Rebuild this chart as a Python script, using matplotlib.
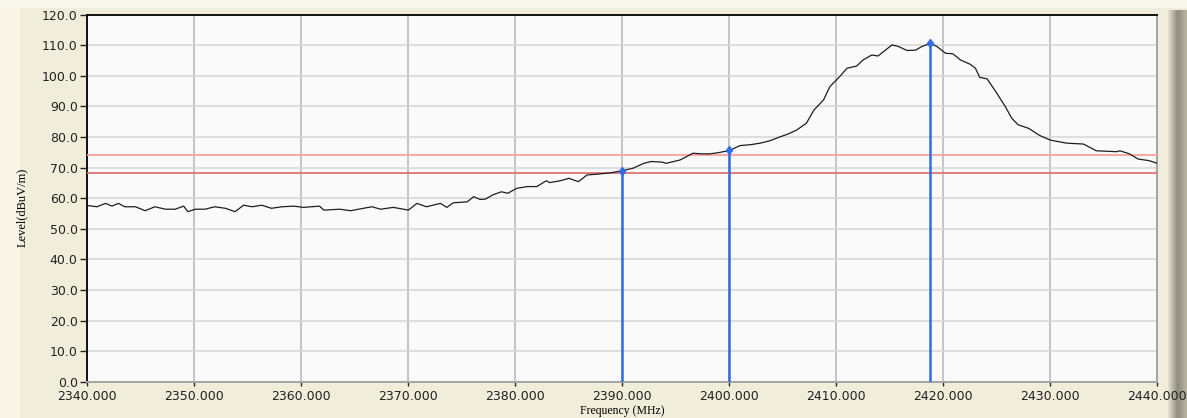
import matplotlib
matplotlib.use("Agg")
import matplotlib.pyplot as plt
import numpy as np
from matplotlib.patches import Rectangle

# spectrum trace (MHz, dBuV/m)
freq = [
    2340.0, 2340.9, 2341.7, 2342.3, 2342.9, 2343.5, 2344.5, 2345.4, 2346.3, 2347.3,
    2348.2, 2349.0, 2349.4, 2350.1, 2351.0, 2351.9, 2352.9, 2353.8, 2354.6, 2355.4,
    2356.3, 2357.2, 2358.2, 2359.3, 2360.2, 2361.7, 2362.1, 2363.6, 2364.6, 2365.5,
    2366.6, 2367.4, 2368.6, 2370.0, 2370.8, 2371.7, 2373.0, 2373.6, 2374.2, 2375.5,
    2376.1, 2376.7, 2377.2, 2377.9, 2378.7, 2379.3, 2380.1, 2381.1, 2382.0, 2382.9,
    2383.2, 2384.2, 2385.0, 2385.9, 2386.7, 2387.8, 2388.9, 2390.0, 2391.0, 2392.0,
    2392.7, 2393.7, 2394.1, 2395.4, 2396.6, 2397.4, 2398.2, 2399.0, 2400.0, 2401.0,
    2402.0, 2402.9, 2403.8, 2404.7, 2405.5, 2406.3, 2407.2, 2407.9, 2408.8, 2409.4,
    2410.3, 2411.0, 2411.9, 2412.5, 2413.3, 2413.9, 2414.4, 2415.2, 2415.8, 2416.6,
    2417.4, 2418.0, 2418.8, 2419.4, 2420.2, 2420.9, 2421.6, 2422.5, 2423.0, 2423.4,
    2424.1, 2425.0, 2425.8, 2426.4, 2427.0, 2428.0, 2429.0, 2430.0, 2431.5, 2433.1,
    2434.3, 2436.2, 2436.5, 2437.4, 2438.2, 2439.2, 2440.0,
]
level = [
    57.6, 57.2, 58.3, 57.4, 58.3, 57.2, 57.2, 55.9, 57.2, 56.4,
    56.4, 57.4, 55.6, 56.4, 56.4, 57.2, 56.7, 55.6, 57.7, 57.2,
    57.7, 56.7, 57.2, 57.4, 57.0, 57.4, 56.1, 56.4, 55.9, 56.5,
    57.2, 56.4, 57.0, 56.1, 58.3, 57.2, 58.3, 57.0, 58.5, 58.8,
    60.5, 59.6, 59.7, 61.1, 62.1, 61.6, 63.2, 63.8, 63.8, 65.7,
    65.1, 65.7, 66.5, 65.4, 67.6, 67.9, 68.3, 69.0, 69.8, 71.4,
    72.0, 71.8, 71.4, 72.5, 74.7, 74.5, 74.5, 74.9, 75.6, 77.2,
    77.5, 78.0, 78.8, 80.0, 81.0, 82.3, 84.5, 88.8, 92.1, 96.5,
    99.7, 102.5, 103.2, 105.2, 106.8, 106.5, 107.9, 110.1, 109.6, 108.3,
    108.4, 109.6, 110.6, 109.6, 107.4, 107.2, 105.2, 103.8, 102.5, 99.5,
    99.0, 94.3, 89.9, 86.1, 84.0, 82.8, 80.5, 79.0, 78.0, 77.7,
    75.5, 75.2, 75.5, 74.5, 72.8, 72.3, 71.4,
]

limit_levels = [74.0, 68.2]
limit_colors = ["#ff9f9f", "#e07272"]

marker_freq = [2390.0, 2400.0, 2418.8]
marker_level = [69.0, 75.6, 110.6]

x_ticks = np.arange(2340, 2441, 10)
y_ticks = np.arange(0, 121, 10)

fig = plt.figure(figsize=(11.87, 4.18), dpi=100, facecolor="#f1eddb")

# window chrome: light strips on top/left, shaded bar on the right
fig.patches.append(Rectangle((0, 0), 0.017, 1, transform=fig.transFigure,
                             facecolor="#f8f5e6", edgecolor="none", zorder=-1))
fig.patches.append(Rectangle((0, 0.981), 1, 0.019, transform=fig.transFigure,
                             facecolor="#faf8ec", edgecolor="none", zorder=-1))
grad_ax = fig.add_axes([0.984, 0, 0.016, 0.975])
grad = np.linspace(0, 1, 64)[None, :]
grad_ax.imshow(grad, aspect="auto", cmap=matplotlib.colors.LinearSegmentedColormap.from_list(
    "bar", ["#e6e2cf", "#8e8c80", "#b9b6a6"]))
grad_ax.set_axis_off()

ax = fig.add_axes([0.0736, 0.0868, 0.9014, 0.8781])
ax.set_facecolor("#fafafa")

ax.plot(freq, level, color="#1e1e1e", lw=0.9, zorder=4)

for lv, c in zip(limit_levels, limit_colors):
    ax.axhline(lv, color=c, lw=1.3, zorder=3)

ax.vlines(marker_freq, 0, marker_level, color="#2f6ee6", lw=1.8, zorder=5)
ax.plot(marker_freq, marker_level, "d", color="#2f6ee6", ms=4.5, zorder=6)

ax.set_xlim(2340, 2440)
ax.set_ylim(0, 120)
ax.set_xticks(x_ticks)
ax.set_yticks(y_ticks)
ax.set_xticklabels([f"{v:.3f}" for v in x_ticks])
ax.set_yticklabels([f"{v:.1f}" for v in y_ticks])
ax.tick_params(axis="x", length=3, width=1, pad=3, labelsize=9, colors="#222222")
ax.tick_params(axis="y", length=5, width=1, pad=2, labelsize=9, colors="#222222")

ax.grid(axis="y", color="#d6d6d6", lw=1.1)
ax.grid(axis="x", color="#c4c4c4", lw=1.4)
ax.set_axisbelow(True)

for side in ("left", "top"):
    ax.spines[side].set_color("#111111")
    ax.spines[side].set_linewidth(1.4)
for side in ("right", "bottom"):
    ax.spines[side].set_color("#a4a4a4")
    ax.spines[side].set_linewidth(1.4)

fig.text(622 / 1187, 1 - 411 / 418, "Frequency (MHz)", ha="center", va="center",
         family="Liberation Serif", fontsize=8.5)
fig.text(22 / 1187, 1 - 207 / 418, "Level(dBuV/m)", ha="center", va="center",
         rotation=90, family="Liberation Serif", fontsize=9)

fig.savefig("out.png", dpi=100, facecolor=fig.get_facecolor())
